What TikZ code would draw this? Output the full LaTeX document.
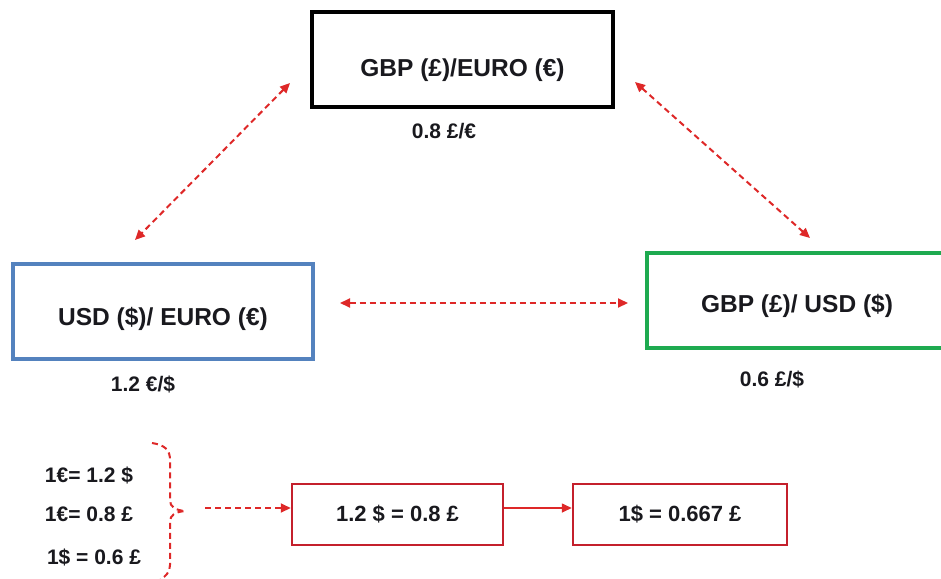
\documentclass[tikz,border=0pt]{standalone}
\usepackage{fontspec}
\setmainfont{Liberation Sans}
\usetikzlibrary{arrows.meta}
\definecolor{linkred}{RGB}{222,40,40}
\definecolor{boxred}{RGB}{196,32,44}
\definecolor{boxblue}{RGB}{84,130,190}
\definecolor{boxgreen}{RGB}{30,170,80}
\definecolor{ink}{RGB}{25,25,30}
\tikzset{
  pairbox/.style={draw, line width=#1, minimum height=95pt, inner sep=0pt, text=ink,
    text depth=0pt, font=\bfseries\fontsize{24.5}{28}\selectfont},
  ratebox/.style={draw=boxred, line width=2.5pt, minimum width=211pt, minimum height=61pt,
    inner sep=0pt, text=ink, font=\bfseries\fontsize{22}{26}\selectfont},
  ratelabel/.style={text=ink, inner sep=0pt, font=\bfseries\fontsize{21}{25}\selectfont},
  factlabel/.style={text=ink, inner sep=0pt, font=\bfseries\fontsize{21}{25}\selectfont},
  link/.style={draw=linkred, line width=2pt, dash pattern=on 6pt off 4pt,
    {Triangle[length=10pt,width=9pt]}-{Triangle[length=10pt,width=9pt]}},
  flow/.style={draw=linkred, line width=1.6pt, -{Triangle[length=10pt,width=9pt]}},
}
\begin{document}
\begin{tikzpicture}[x=1pt,y=-1pt]
\useasboundingbox (0,0) rectangle (941,578);
\begin{scope}
\clip (0,0) rectangle (941,578);
% currency pairs (text height sets where the label sits in the box)
\node[pairbox=4pt, draw=black, minimum width=301pt, text height=34.6pt] (gbpeur)
  at (462.5,59.5) {GBP (£)/EURO (€)};
\node[pairbox=3.5pt, draw=boxblue, minimum width=300pt, text height=28.6pt] (usdeur)
  at (163,311.5) {USD (\$)/ EURO (€)};
\node[pairbox=4pt, draw=boxgreen, minimum width=300pt, text height=24pt] (gbpusd)
  at (797,300.5) {GBP (£)/ USD (\$)};
\end{scope}
% rates under the pairs
\node[ratelabel] (r1) at (444,131) {0.8 £/€};
\node[ratelabel] (r2) at (143,384) {1.2 €/\$};
\node[ratelabel] (r3) at (772,379) {0.6 £/\$};
% cross links between the pairs
\coordinate (a1) at (290,83);  \coordinate (a2) at (135,240);
\coordinate (b1) at (635,82);  \coordinate (b2) at (810,238);
\coordinate (c1) at (340,303); \coordinate (c2) at (628,303);
\draw[link] (a1) -- (a2);
\draw[link] (b1) -- (b2);
\draw[link] (c1) -- (c2);
% given rates
\node[factlabel] (f1) at (89,475) {1€= 1.2 \$};
\node[factlabel] (f2) at (89,514) {1€= 0.8 £};
\node[factlabel] (f3) at (94,557) {1\$ = 0.6 £};
% brace grouping the given rates
\coordinate (tip) at (185,511);
\draw[linkred, line width=2pt, dash pattern=on 6pt off 4pt]
  (152,443) .. controls (165,445) and (170,450) .. (170,460) -- (170,500)
  .. controls (170,507) and (175,510) .. (tip)
  .. controls (175,512) and (170,515) .. (170,522) -- (170,565)
  .. controls (170,572) and (166,576) .. (160,580);
% derived rates
\node[ratebox] (x1) at (397.5,514.5) {1.2 \$ = 0.8 £};
\node[ratebox, minimum width=214pt] (x2) at (680,514.5) {1\$ = 0.667 £};
\coordinate (d1) at (205,508);
\draw[link, -{Triangle[length=10pt,width=9pt]}] (d1) -- (x1.west |- d1);
\draw[flow] (x1.east |- 0,508) -- (x2.west |- 0,508);
\end{tikzpicture}
\end{document}
